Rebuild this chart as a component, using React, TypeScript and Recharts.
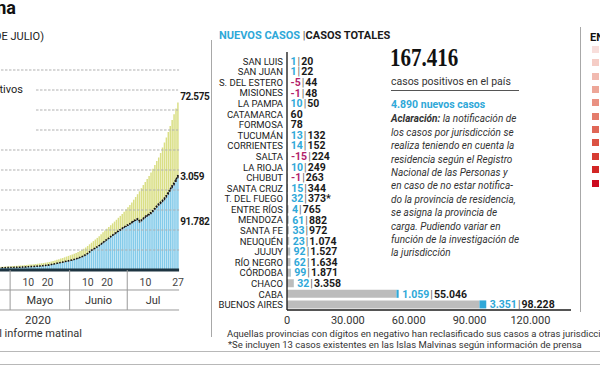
import React from 'react';
import {
  ComposedChart, BarChart, Bar, Line, XAxis, YAxis, ReferenceLine, LabelList
} from 'recharts';

// ---- evolution chart (daily, 20/4 -> 27/7) ----
const START_DAY = 20;
const START_MONTH = 4;
const CONFIRMED = [
  2600, 2700, 2800, 2900, 3000, 3100, 3200, 3300, 3400, 3550, 3700,
  3850, 4000, 4100, 4200, 4350, 4500, 4650, 4800, 5000, 5200, 5400, 5600, 5800, 6000, 6250, 6500,
  6750, 7000, 7300, 7650, 8000, 8500, 9000, 9600, 10200, 10800, 11400, 12000, 12700, 13400, 14100,
  14800, 15500, 16300, 17100, 18000, 19000, 20000, 21200, 22500, 24000, 25700, 27300, 28900, 30500,
  32100, 33800, 35700, 37700, 39600, 41300, 43000, 44800, 46600, 48400, 50200, 52200, 54100, 56000,
  58200, 60400,
  62700, 65000, 67600, 70300, 73000, 75800, 78700, 81800, 85000, 88000, 91000, 94000, 97500, 101200,
  105000, 109000, 112500, 117000, 122500, 127500, 132500, 138000, 144000, 150000, 155800, 161500, 167416,
];
const ACTIVE = [
  1700, 1750, 1800, 1850, 1900, 1950, 2000, 2050, 2100, 2150, 2200,
  2250, 2300, 2350, 2400, 2450, 2550, 2650, 2750, 2850, 2950, 3050, 3150, 3250, 3400, 3550, 3700,
  3850, 4000, 4200, 4450, 4750, 5100, 5500, 5900, 6300, 6700, 7100, 7500, 7900, 8300, 8700,
  9100, 9600, 10100, 10700, 11300, 12000, 12800, 13700, 14700, 16000, 17500, 19000, 20300, 21500,
  22600, 23800, 25200, 26800, 28300, 29700, 31100, 32600, 34000, 35400, 36700, 38000, 39300, 40600,
  41900, 43000,
  44100, 45200, 46600, 47900, 49000, 49800, 47300, 48500, 50300, 51800, 53200, 54500, 55800, 57800,
  60000, 62300, 64300, 65800, 67800, 69700, 72300, 75300, 78500, 81700, 84400, 88000, 91782,
];
const DEATHS = [
  147, 152, 159, 167, 176, 185, 192, 197, 207, 214, 218,
  225, 229, 237, 246, 264, 273, 282, 293, 300, 305, 314, 319, 329, 353, 356, 363,
  373, 382, 393, 401, 416, 433, 445, 452, 467, 484, 500, 508, 520, 528, 539,
  556, 569, 583, 608, 632, 648, 664, 693, 717, 735, 765, 785, 815, 833,
  854, 878, 913, 948, 979, 992, 1011, 1043, 1078, 1116, 1150, 1184, 1207, 1232,
  1281, 1307,
  1351, 1385, 1415, 1445, 1490, 1523, 1582, 1644, 1694, 1774, 1810, 1845, 1903, 1968,
  2050, 2112, 2178, 2220, 2260, 2373, 2490, 2588, 2702, 2807, 2893, 2939, 3059,
];
const DAY_TICKS = ['10/5', '20/5', '10/6', '20/6', '10/7', '27/7'];
const MONTH_TICKS = ['1/5', '1/6', '1/7'];
const MONTH_NAMES = ['Mayo', 'Junio', 'Jul'];
const MONTH_SPAN = [31, 30, 27];
const YEAR_TICK = ['15/5'];
const GRID_FULL = [20000, 40000, 60000, 80000, 100000, 120000, 200000];
const GRID_SHORT = [140000, 160000, 180000];

// ---- provinces ----
const PROVINCES = ['SAN LUIS', 'SAN JUAN', 'S. DEL ESTERO', 'MISIONES', 'LA PAMPA', 'CATAMARCA', 'FORMOSA',
  'TUCUMÁN', 'CORRIENTES', 'SALTA', 'LA RIOJA', 'CHUBUT', 'SANTA CRUZ', 'T. DEL FUEGO', 'ENTRE RÍOS',
  'MENDOZA', 'SANTA FE', 'NEUQUÉN', 'JUJUY', 'RÍO NEGRO', 'CÓRDOBA', 'CHACO', 'CABA', 'BUENOS AIRES'];
const NEW_CASES = [1, 1, -5, -1, 10, null, null, 13, 14, -15, 10, -1, 15, 32, 4, 61, 33, 23, 92, 62, 99, 32, 1059, 3351];
const TOTAL_CASES = [20, 22, 44, 48, 50, 60, 78, 132, 152, 224, 249, 263, 344, 373, 765, 882, 972, 1074, 1527,
  1634, 1871, 3358, 55046, 98228];
const NOTED = ['T. DEL FUEGO'];
const PROV_TICKS = [0, 30000, 60000, 90000, 120000];

const NOTE_LINES = [
  'la notificación de',
  'los casos por jurisdicción se',
  'realiza teniendo en cuenta la',
  'residencia según el Registro',
  'Nacional de las Personas y',
  'en caso de no estar notifica-',
  'do la provincia de residencia,',
  'se asigna la provincia de',
  'carga. Pudiendo variar en',
  'función de la investigación de',
  'la jurisdicción',
];
const SCALE_COLORS = ['#f8dedb', '#f5cdc6', '#f1bab0', '#eda698', '#e99182', '#e47c6c', '#e06757',
  '#db5243', '#d73c33', '#d22625', '#cc0a1f'];

const FONT = 'Roboto, "Liberation Sans", sans-serif';
const BAND = 1.92;
const N = CONFIRMED.length;

const fmt = (n: number) => String(Math.round(n)).replace(/\B(?=(\d{3})+(?!\d))/g, '.');

const days: string[] = [];
for (let i = 0; i < N; i++) {
  const d = new Date(2020, START_MONTH - 1, START_DAY + i);
  days.push(`${d.getDate()}/${d.getMonth() + 1}`);
}
const evo = days.map((day, i) => ({
  day,
  active: ACTIVE[i],
  deaths: DEATHS[i],
  recovered: CONFIRMED[i] - ACTIVE[i] - DEATHS[i],
  activeTop: ACTIVE[i] + DEATHS[i],
}));

const prov = PROVINCES.map((name, i) => {
  const nv = NEW_CASES[i];
  const pos = nv !== null && nv > 0 ? nv : 0;
  return { name, base: TOTAL_CASES[i] - pos, nuevo: pos };
});

function MonthTick(props: any) {
  const { x, y, payload } = props;
  const i = MONTH_TICKS.indexOf(payload.value);
  const x0 = x - BAND / 2;
  return (
    <g>
      <line x1={x0} x2={x0} y1={y - 20} y2={y + 20} stroke="#9a9a9a" />
      <text x={x0 + (MONTH_SPAN[i] * BAND) / 2} y={y + 10} dy="0.36em" textAnchor="middle"
        fontSize={11} fill="#333" fontFamily={FONT}>{MONTH_NAMES[i]}</text>
    </g>
  );
}

function ProvTick(props: any) {
  const { x, y, payload } = props;
  return (
    <text x={x} y={y} dy="0.36em" textAnchor="end" fontSize={9.5} fill="#222" fontFamily={FONT}>
      {payload.value}
    </text>
  );
}

const endLabel = (key: 'recovered' | 'deaths' | 'active', place: 'top' | 'edge' | 'mid') => (p: any) => {
  if (p.index !== N - 1) return null;
  const yy = place === 'top' ? p.y - 6 : place === 'edge' ? p.y + 1 : p.y + p.height / 2 - 3;
  return (
    <text x={p.x + p.width + 1.5} y={yy} dy="0.36em" fontSize={10} fontWeight={700} letterSpacing={-0.4}
      fill="#1a1a1a" fontFamily={FONT}>{fmt(evo[N - 1][key])}</text>
  );
};

// attached to the base (grey) segment, which is never empty
function ProvLabel(p: any) {
  const i = p.index;
  const row = prov[i];
  if (!row) return null;
  const nv = NEW_CASES[i];
  const star = NOTED.includes(PROVINCES[i]) ? '*' : '';
  const end = p.x + (p.width * TOTAL_CASES[i]) / row.base;
  return (
    <text x={end + 3.5} y={p.y + p.height / 2} dy="0.36em" fontSize={10.5} fontWeight={700}
      fontFamily={FONT}>
      {nv !== null && <tspan fill={nv < 0 ? '#b2216a' : '#2fa8d8'}>{fmt(nv)}</tspan>}
      {nv !== null && <tspan fill="#666" fontWeight={400} dx={1}>|</tspan>}
      <tspan fill="#1a1a1a" dx={nv !== null ? 1 : 0}>{fmt(TOTAL_CASES[i])}{star}</tspan>
    </text>
  );
}

const abs = (s: React.CSSProperties): React.CSSProperties => ({ position: 'absolute', whiteSpace: 'nowrap', fontFamily: FONT, ...s });

export default function App() {
  const plotW = N * BAND;
  return (
    <div style={{ position: 'absolute', left: 0, top: 0, width: 600, height: 365, overflow: 'hidden', background: '#fff' }}>
      {/* left titles */}
      <div style={abs({ right: 584, top: -2, fontSize: 18, fontWeight: 700, lineHeight: '20px', color: '#111' })}>Argentina</div>
      <div style={abs({ right: 556, top: 30, fontSize: 11, lineHeight: '14px', color: '#222' })}>(AL 27 DE JULIO)</div>
      <div style={abs({ right: 577, top: 83, fontSize: 11, lineHeight: '14px', color: '#222' })}>Casos activos</div>
      <div style={abs({ right: 518, top: 327, fontSize: 11, lineHeight: '14px', color: '#333' })}>Fuente: Ministerio de Salud, datos del informe matinal</div>

      <div style={{ position: 'absolute', left: -11.1, top: 0 }}>
        <ComposedChart width={plotW + 40} height={330} data={evo} barSize={1.5}
          margin={{ top: 70, right: 40, bottom: 0, left: 0 }}>
          <YAxis hide domain={[0, 200000]} type="number" />
          <XAxis xAxisId="d" dataKey="day" ticks={DAY_TICKS} interval={0} height={20}
            axisLine={{ stroke: '#1d3441', strokeWidth: 3 }} tickLine={false} tickSize={7}
            tick={{ fontSize: 10.5, fill: '#444', fontFamily: FONT }} tickFormatter={(v: string) => v.split('/')[0]} />
          <XAxis xAxisId="m" dataKey="day" ticks={MONTH_TICKS} interval={0} height={20}
            axisLine={{ stroke: '#9a9a9a' }} tickLine={false} tickSize={0} tickMargin={0} tick={<MonthTick />} />
          <XAxis xAxisId="y" dataKey="day" ticks={YEAR_TICK} interval={0} height={20}
            axisLine={{ stroke: '#9a9a9a' }} tickLine={false} tickSize={4}
            tick={{ fontSize: 11.5, fill: '#333', fontFamily: FONT }} tickFormatter={() => '2020'} />
          {GRID_FULL.map((v) => (
            <ReferenceLine key={v} xAxisId="d" y={v} stroke="#b0b0b0" strokeDasharray="2.5 1.5" />
          ))}
          {GRID_SHORT.map((v) => (
            <ReferenceLine key={v} xAxisId="d" segment={[{ x: '14/5', y: v }, { x: days[N - 1], y: v }]}
              stroke="#b0b0b0" strokeDasharray="2.5 1.5" />
          ))}
          <Bar xAxisId="d" dataKey="active" stackId="e" fill="#84cbea" isAnimationActive={false}>
            <LabelList content={endLabel('active', 'mid')} />
          </Bar>
          <Bar xAxisId="d" dataKey="deaths" stackId="e" fill="#1e1e1e" isAnimationActive={false}>
            <LabelList content={endLabel('deaths', 'edge')} />
          </Bar>
          <Bar xAxisId="d" dataKey="recovered" stackId="e" fill="#dadf86" isAnimationActive={false}>
            <LabelList content={endLabel('recovered', 'top')} />
          </Bar>
          <Line xAxisId="d" dataKey="activeTop" stroke="#111" strokeWidth={1.6} strokeDasharray="1.5 1.4"
            dot={false} isAnimationActive={false} />
        </ComposedChart>
      </div>

      {/* middle panel */}
      <div style={{ position: 'absolute', left: 210.5, top: 40, width: 1, height: 297, background: '#a8a8a8' }} />
      <div style={abs({ left: 219, top: 29, fontSize: 11, fontWeight: 700, lineHeight: '14px' })}>
        <span style={{ color: '#2fa8d8' }}>NUEVOS CASOS</span>
        <span style={{ color: '#555', fontWeight: 400 }}> |</span>
        <span style={{ color: '#1a1a1a' }}>CASOS TOTALES</span>
      </div>
      <div style={{ position: 'absolute', left: 200, top: 0 }}>
        <BarChart layout="vertical" width={400} height={330} data={prov} barSize={8}
          margin={{ top: 52, right: 29, bottom: 0, left: 0 }}>
          <XAxis type="number" domain={[0, 140000]} ticks={PROV_TICKS} tickFormatter={fmt} height={20}
            axisLine={{ stroke: '#555', strokeWidth: 2 }} tickLine={false} tickSize={4}
            tick={{ fontSize: 11, fill: '#333', fontFamily: FONT }} />
          <YAxis type="category" dataKey="name" width={87} interval={0} padding={{ top: 4, bottom: 0 }}
            axisLine={{ stroke: '#111', strokeWidth: 1.3 }} tickLine={false} tickSize={4} tickMargin={0}
            tick={<ProvTick />} />
          <Bar dataKey="base" stackId="p" fill="#bcbcbc" isAnimationActive={false}>
            <LabelList content={ProvLabel} />
          </Bar>
          <Bar dataKey="nuevo" stackId="p" fill="#2fa8d8" isAnimationActive={false} />
        </BarChart>
      </div>

      {/* summary text */}
      <div style={{ ...abs({ left: 390, top: 43, fontSize: 25, fontWeight: 700, lineHeight: '30px', color: '#111',
        fontFamily: '"Liberation Serif", "DejaVu Serif", serif' }), transform: 'scaleX(0.84)', transformOrigin: 'left' }}>167.416</div>
      <div style={abs({ left: 391, top: 75, fontSize: 10.5, lineHeight: '14px', color: '#333' })}>casos positivos en el país</div>
      <div style={{ position: 'absolute', left: 391, top: 90, width: 128, height: 1, background: '#555' }} />
      <div style={abs({ left: 391, top: 98, fontSize: 10.5, fontWeight: 700, lineHeight: '14px', color: '#2fa8d8' })}>4.890 nuevos casos</div>
      <div style={abs({ left: 391, top: 112.3, fontSize: 10, lineHeight: '13.4px', color: '#333', fontStyle: 'italic' })}>
        {NOTE_LINES.map((l, i) => (
          <div key={i}>{i === 0 && <b>Aclaración: </b>}{l}</div>
        ))}
      </div>

      {/* right legend */}
      <div style={{ position: 'absolute', left: 580, top: 27, width: 1, height: 285, background: '#a8a8a8' }} />
      <div style={abs({ left: 590, top: 31, fontSize: 11, fontWeight: 700, lineHeight: '14px', color: '#111' })}>EN LAS PROVINCIAS</div>
      {SCALE_COLORS.map((c, i) => (
        <div key={c} style={{ position: 'absolute', left: 591.5, top: 46 + i * 13.35, width: 7, height: 7, background: c }} />
      ))}

      {/* footnotes */}
      <div style={abs({ left: 227, top: 328, fontSize: 9.5, lineHeight: '11px', color: '#333' })}>
        Aquellas provincias con dígitos en negativo han reclasificado sus casos a otras jurisdicciones
      </div>
      <div style={abs({ left: 228, top: 339, fontSize: 9.5, lineHeight: '11px', color: '#333' })}>
        *Se incluyen 13 casos existentes en las Islas Malvinas según información de prensa
      </div>
      <div style={{ position: 'absolute', left: 0, top: 351, width: 600, height: 1, background: '#b8b8b8' }} />
      <div style={{ position: 'absolute', left: 0, top: 363.5, width: 600, height: 1, background: '#b8b8b8' }} />
    </div>
  );
}
